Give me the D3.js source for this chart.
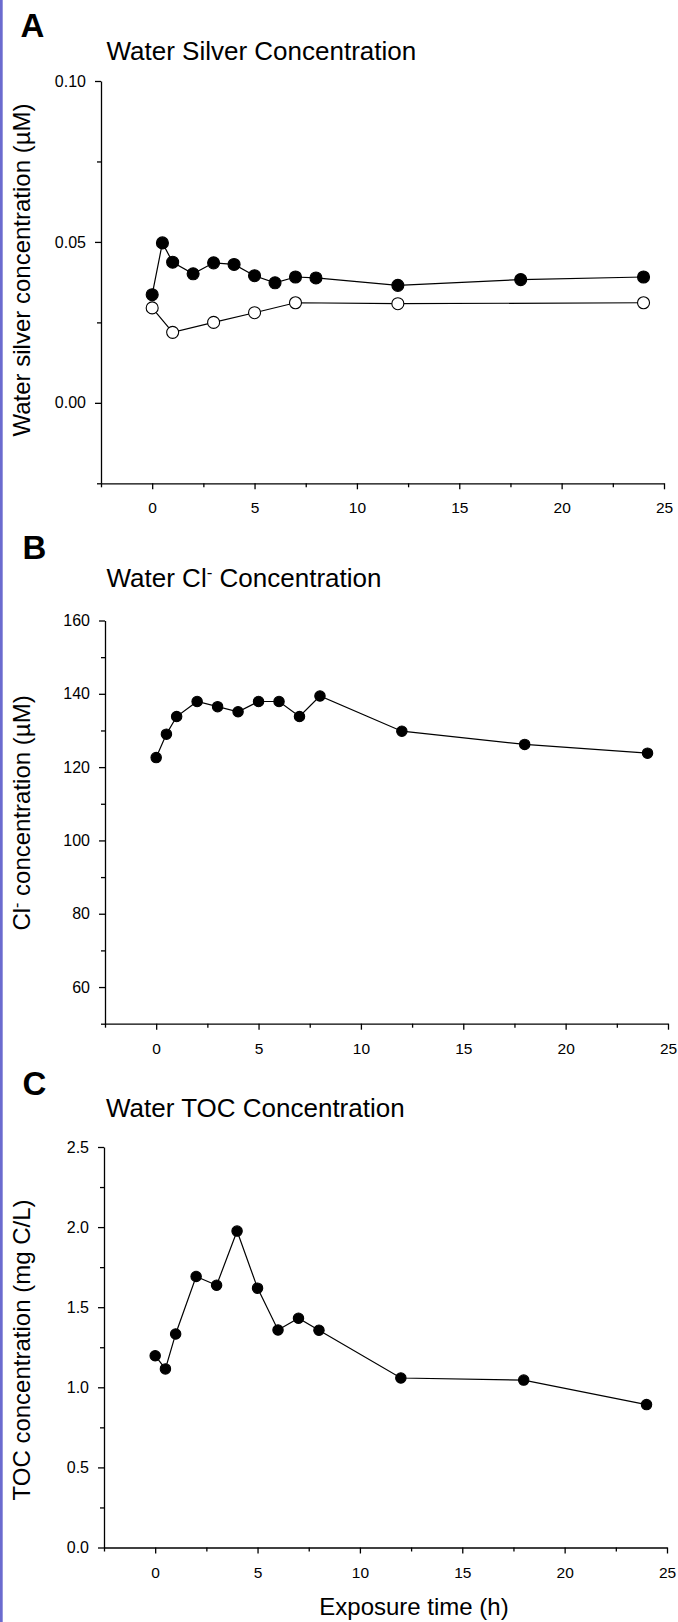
<!DOCTYPE html>
<html>
<head>
<meta charset="utf-8">
<script src="https://cdn.jsdelivr.net/npm/d3@7"></script>
<style>
  html, body { margin: 0; padding: 0; background: #fff; }
  svg { display: block; }
  text { font-family: "Liberation Sans", Arial, Helvetica, sans-serif; fill: #000; }
</style>
</head>
<body>
<svg id="chart" width="678" height="1622"></svg>
<script>
// ---------- data ----------
const timeH = [0, 0.5, 1, 2, 3, 4, 5, 6, 7, 8, 12, 18, 24];
const silverFilled = [0.0336, 0.0497, 0.0437, 0.0401, 0.0435, 0.0430, 0.0395, 0.0373, 0.0391, 0.0388, 0.0365, 0.0383, 0.0391];
const silverOpenTime = [0, 1, 3, 5, 7, 12, 24];
const silverOpen = [0.0295, 0.0219, 0.0250, 0.0280, 0.0311, 0.0308, 0.0311];
const chloride = [122.6, 129.0, 133.8, 137.9, 136.5, 135.1, 137.9, 137.9, 133.8, 139.4, 129.8, 126.2, 123.8];
const toc = [1.197, 1.115, 1.333, 1.692, 1.637, 1.975, 1.619, 1.358, 1.431, 1.356, 1.058, 1.045, 0.892];

const xMajorTicks = [0, 5, 10, 15, 20, 25];
const xMinorTicks = [-2.5, 2.5, 7.5, 12.5, 17.5, 22.5];
const silverMajorTicks = [0.00, 0.05, 0.10];
const silverMinorTicks = [-0.025, 0.025, 0.075];
const chlorideMajorTicks = [60, 80, 100, 120, 140, 160];
const chlorideMinorTicks = [50, 70, 90, 110, 130, 150];
const tocMajorTicks = [0.0, 0.5, 1.0, 1.5, 2.0, 2.5];
const tocMinorTicks = [0.25, 0.75, 1.25, 1.75, 2.25];

const panelLetters = ["A", "B", "C"];

// ---------- drawing ----------
const svg = d3.select("#chart");

// left border stripe
svg.append("rect").attr("x", 0).attr("y", 0).attr("width", 2.7).attr("height", 1622).attr("fill", "#6b6bcf");

const panels = [
  { letter: panelLetters[0], letterY: 36.7, letterX: 20.5, titleY: 60, titleX: 106.5,
    title: [{t: "Water Silver Concentration"}],
    ytitle: [{t: "Water silver concentration (µM)"}], ytitleY: 270,
    x0: 101, x1: 664, yTop: 81, yZeroPx: 483.3,
    yDomain: [-0.025, 0.10], yMajor: silverMajorTicks, yMinor: silverMinorTicks, yFmt: d3.format(".2f"),
    series: [
      { xs: timeH, ys: silverFilled, fill: "#000", r: 6 },
      { xs: silverOpenTime, ys: silverOpen, fill: "#fff", r: 6 }
    ]
  },
  { letter: panelLetters[1], letterY: 559.3, letterX: 22.5, titleY: 586.7, titleX: 106.5,
    title: [{t: "Water Cl"}, {t: "-", sup: true}, {t: " Concentration"}],
    ytitle: [{t: "Cl"}, {t: "-", sup: true}, {t: " concentration (µM)"}], ytitleY: 813,
    x0: 105, x1: 668, yTop: 620.5, yZeroPx: 1023.7,
    yDomain: [50, 160], yMajor: chlorideMajorTicks, yMinor: chlorideMinorTicks, yFmt: d3.format("d"),
    series: [ { xs: timeH, ys: chloride, fill: "#000", r: 5.2 } ]
  },
  { letter: panelLetters[2], letterY: 1094.5, letterX: 22.5, titleY: 1116.7, titleX: 106,
    title: [{t: "Water TOC Concentration"}],
    ytitle: [{t: "TOC concentration (mg C/L)"}], ytitleY: 1350,
    x0: 104, x1: 667, yTop: 1147, yZeroPx: 1547.5,
    yDomain: [0, 2.5], yMajor: tocMajorTicks, yMinor: tocMinorTicks, yFmt: d3.format(".1f"),
    series: [ { xs: timeH, ys: toc, fill: "#000", r: 5.2 } ]
  }
];

function addRich(sel, parts, supSize, supShift) {
  parts.forEach((p, i) => {
    const ts = sel.append("tspan").text(p.t);
    if (p.sup) {
      ts.attr("font-size", supSize).attr("dy", -supShift);
    } else if (i > 0 && parts[i - 1].sup) {
      ts.attr("dy", supShift);
    }
  });
}

panels.forEach((p, idx) => {
  const g = svg.append("g");
  const x = d3.scaleLinear().domain([-2.5, 25]).range([p.x0, p.x1]);
  const y = d3.scaleLinear().domain(p.yDomain).range([p.yZeroPx, p.yTop]);

  // letter
  g.append("text").attr("x", p.letterX).attr("y", p.letterY)
    .attr("font-size", 33).attr("font-weight", "bold").text(p.letter);

  // title
  const tt = g.append("text").attr("x", p.titleX).attr("y", p.titleY).attr("font-size", 26);
  addRich(tt, p.title, 17, 9);

  // y title
  const yt = g.append("text").attr("transform", `translate(30,${p.ytitleY}) rotate(-90)`)
    .attr("text-anchor", "middle").attr("font-size", 24);
  addRich(yt, p.ytitle, 16, 8);

  // x axis
  const xAxisY = p.yZeroPx;
  const xa = g.append("g").attr("transform", `translate(0,${xAxisY})`)
    .call(d3.axisBottom(x).tickValues(xMajorTicks).tickSize(6).tickSizeOuter(0).tickPadding(13).tickFormat(d3.format("d")));
  const xm = g.append("g").attr("transform", `translate(0,${xAxisY})`)
    .call(d3.axisBottom(x).tickValues(xMinorTicks).tickSize(4).tickFormat(""));
  xm.select(".domain").remove();

  // y axis
  const ya = g.append("g").attr("transform", `translate(${p.x0},0)`)
    .call(d3.axisLeft(y).tickValues(p.yMajor).tickSize(6).tickSizeOuter(0).tickPadding(9).tickFormat(p.yFmt));
  const ym = g.append("g").attr("transform", `translate(${p.x0},0)`)
    .call(d3.axisLeft(y).tickValues(p.yMinor).tickSize(4).tickFormat(""));
  ym.select(".domain").remove();

  [xa, xm, ya, ym].forEach(a => {
    a.selectAll("path, line").attr("stroke", "#000").attr("stroke-width", 1.3);
    a.selectAll("text").attr("font-size", 16).attr("font-family", '"Liberation Sans", Arial, sans-serif').attr("fill", "#000");
  });
  xa.selectAll("text").attr("font-size", 15.5);

  // series
  p.series.forEach(s => {
    const pts = s.xs.map((v, i) => [v, s.ys[i]]);
    g.append("path").datum(pts)
      .attr("fill", "none").attr("stroke", "#000").attr("stroke-width", 1.2)
      .attr("d", d3.line().x(d => x(d[0])).y(d => y(d[1])));
    g.selectAll(null).data(pts).enter().append("circle")
      .attr("cx", d => x(d[0])).attr("cy", d => y(d[1]))
      .attr("r", s.r).attr("fill", s.fill).attr("stroke", "#000").attr("stroke-width", 1.1);
  });
});

// shared x-axis title
svg.append("text").attr("x", 414).attr("y", 1615).attr("text-anchor", "middle")
  .attr("font-size", 24).text("Exposure time (h)");
</script>
</body>
</html>
